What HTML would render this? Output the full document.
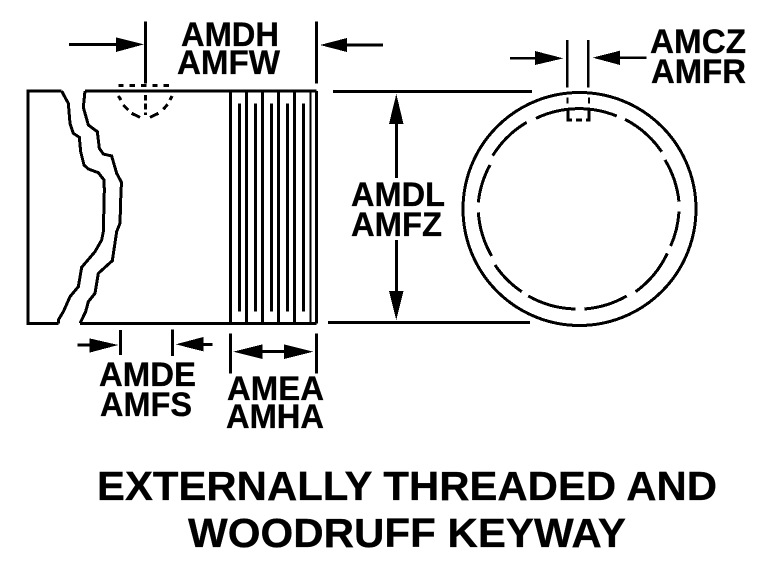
<!DOCTYPE html>
<html><head><meta charset="utf-8"><style>
html,body{margin:0;padding:0;background:#fff;overflow:hidden}
svg{display:block}
text{font-family:"Liberation Sans",Arial,sans-serif;font-weight:bold;fill:#000;stroke:#000;stroke-width:.3px}
</style></head><body>
<svg width="769" height="561" viewBox="0 0 769 561" xmlns="http://www.w3.org/2000/svg" shape-rendering="crispEdges">
<rect width="769" height="561" fill="#fff"/>
<g transform="translate(20,20) scale(.33333)" fill="none" stroke="#000" stroke-width="9">
<path d="M125,213H24V910H115"/>
<path d="M195,213H890M180,910H890"/>
<path d="M125,213L135,232L145,250L150,310L160,340L178,352L182,395L192,435L205,447L235,458L252,480L253,510L250,635L245,660L225,695L185,742L175,800L150,830L130,875L115,900L115,910"/>
<path d="M195,213L190,262L205,315L232,335L238,385L250,402L275,408L290,460L305,488L303,510L300,610L290,635L277,722L235,760L225,820L205,845L197,875L180,910"/>
<path d="M632,213V910M680,213V910M728,213V910M776,213V910M824,213V910M889,213V910"/>
<path d="M871,213V910" stroke-width="6"/>
<path d="M658,250V875M706,250V875M754,250V875M802,250V875M850,250V875"/>
<path d="M377,5V190M889,5V190"/>
<path d="M295,197H460" stroke-dasharray="16 18"/>
<path d="M377,225V285" stroke-dasharray="17 9"/>
<path d="M295,228L303,240M310,255L325,270M335,280L360,292M390,292L415,280M430,268L443,253M450,240L456,228"/>
<path d="M147,73H290"/>
<path d="M288,52L372,73L288,96Z" fill="#000" stroke="none"/>
<path d="M172,975H210M578,973H550M728,995H792"/>
<path d="M208,955L295,975L208,998Z" fill="#000" stroke="none"/>
<path d="M467,973L550,951V994Z" fill="#000" stroke="none"/>
<path d="M301,930V1005M457,928V1008M632,940V1060M889,940V1060"/>
<path d="M640,995L728,973V1017Z M880,995L792,973V1017Z" fill="#000" stroke="none"/>
</g>
<path d="M320,45L347,38V52Z" fill="#000"/>
<path d="M383,45H345" stroke="#000" stroke-width="3"/>
<g stroke="#000" stroke-width="3" fill="none">
<path d="M333,91.5H532M328,322.5H530"/>
<path d="M396.5,110V178M396.5,240V300"/>
<circle cx="579.5" cy="209" r="116.5"/>
</g>
<path d="M396.3,94L403.5,124H389Z M396.3,320L403.5,291H389Z" fill="#000"/>
<g transform="translate(450,90) scale(.33333)" fill="none" stroke="#000" stroke-width="9">
<path d="M258,85A301,301 0 0 1 500,78M525,88A301,301 0 0 1 635,185M645,210A301,301 0 0 1 687,335M687,365A301,301 0 0 1 662,468M652,490A301,301 0 0 1 557,605M530,618A301,301 0 0 1 403,657M377,657A301,301 0 0 1 235,618M215,605A301,301 0 0 1 135,525M125,498A301,301 0 0 1 85,367M85,337A301,301 0 0 1 120,225M128,197A301,301 0 0 1 230,97"/>
<path d="M354,58V90H366M378,90H396M408,90H417V58" stroke="#000" stroke-width="8" fill="none"/>
<path d="M353,22V40M417,22V40" stroke-width="6"/>
</g>
<g transform="translate(500,20) scale(.33333)" fill="none" stroke="#000" stroke-width="8">
<path d="M202,60V203M265,60V203"/>
<path d="M30,115H105M440,113H360"/>
<path d="M105,93L190,115L105,135Z M278,113L360,92V135Z" fill="#000" stroke="none"/>
</g>
<text x="181" y="46" font-size="34" textLength="98" lengthAdjust="spacingAndGlyphs">AMDH</text>
<text x="177" y="74" font-size="34" textLength="103" lengthAdjust="spacingAndGlyphs">AMFW</text>
<text x="650" y="53" font-size="34" textLength="96" lengthAdjust="spacingAndGlyphs">AMCZ</text>
<text x="651" y="83" font-size="34" textLength="95" lengthAdjust="spacingAndGlyphs">AMFR</text>
<text x="351" y="206" font-size="34" textLength="94" lengthAdjust="spacingAndGlyphs">AMDL</text>
<text x="351" y="236" font-size="34" textLength="91" lengthAdjust="spacingAndGlyphs">AMFZ</text>
<text x="99" y="386" font-size="34" textLength="97" lengthAdjust="spacingAndGlyphs">AMDE</text>
<text x="100" y="416" font-size="34" textLength="92" lengthAdjust="spacingAndGlyphs">AMFS</text>
<text x="227" y="400" font-size="34" textLength="97" lengthAdjust="spacingAndGlyphs">AMEA</text>
<text x="226" y="428" font-size="34" textLength="98" lengthAdjust="spacingAndGlyphs">AMHA</text>
<text x="97" y="500" font-size="41" textLength="620" lengthAdjust="spacingAndGlyphs">EXTERNALLY THREADED AND</text>
<text x="188" y="547" font-size="41" textLength="438" lengthAdjust="spacingAndGlyphs">WOODRUFF KEYWAY</text>
</svg>
</body></html>
